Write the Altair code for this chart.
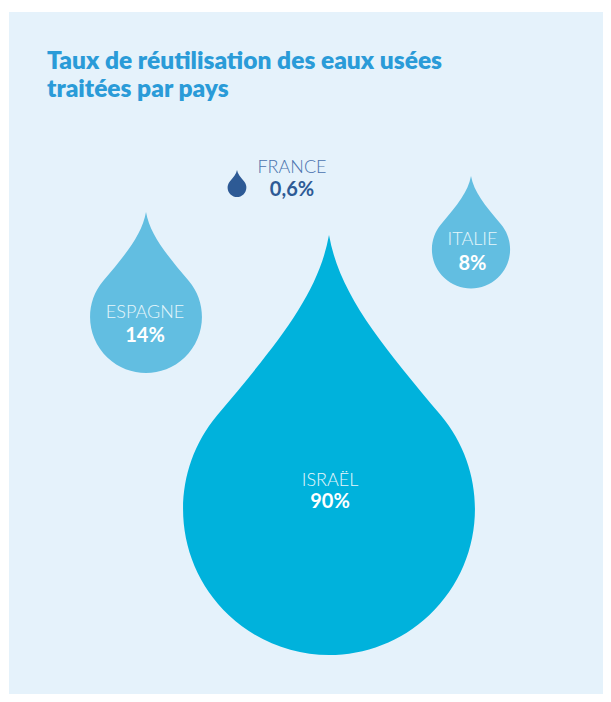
import altair as alt
import pandas as pd

# ---- data ----
countries = ["ISRAËL", "ESPAGNE", "ITALIE", "FRANCE"]
values = [90, 14, 8, 0.6]
value_labels = ["90%", "14%", "8%", "0,6%"]

# ---- layout (plot-area pixels) ----
drop_cx = [320, 137, 462, 228]
drop_cy = [433, 280.5, 220.25, 171.5]
label_x = [321, 136, 463.5, 283]
name_y = [474, 305.7, 233, 161.3]
value_y = [496.3, 329.7, 258, 184]

drop_colors = ["#00B2DC", "#62BEE1", "#62BEE1", "#2D5A95"]
name_colors = ["#E6F6FB", "#E6F6FB", "#E6F6FB", "#4A72AE"]
value_colors = ["#FFFFFF", "#FFFFFF", "#FFFFFF", "#2D5A95"]

W, H = 594, 682
BG = "#E5F2FB"

DROP = ("M0,-1 C0.05,-0.72 0.243,-0.486 0.5324,-0.1417 "
        "A0.695,0.695 0 1 1 -0.5324,-0.1417 "
        "C-0.243,-0.486 -0.05,-0.72 0,-1 Z")

df = pd.DataFrame({
    "country": countries, "value": values, "label": value_labels,
    "cx": drop_cx, "cy": drop_cy, "lx": label_x, "ny": name_y, "vy": value_y,
})

xs = alt.Scale(domain=[0, W], nice=False, zero=False)
ys = alt.Scale(domain=[0, H], nice=False, zero=False, reverse=True)

base = alt.Chart(df)

drops = base.mark_point(shape=DROP, filled=True, opacity=1, strokeWidth=0).encode(
    x=alt.X("cx:Q", scale=xs, axis=None),
    y=alt.Y("cy:Q", scale=ys, axis=None),
    size=alt.Size("value:Q", legend=None,
                  scale=alt.Scale(domain=[0.6, 8, 14, 90],
                                  range=[729, 12656, 25921, 176400])),
    fill=alt.Fill("country:N", legend=None,
                  scale=alt.Scale(domain=countries, range=drop_colors)),
)

names = base.mark_text(font="Lato", fontWeight=300, fontSize=18,
                       align="center", baseline="alphabetic").encode(
    x=alt.X("lx:Q", scale=xs, axis=None),
    y=alt.Y("ny:Q", scale=ys, axis=None),
    text="country:N",
    color=alt.Color("country:N", legend=None,
                    scale=alt.Scale(domain=countries, range=name_colors)),
)

vals = base.mark_text(font="Lato", fontWeight="bold", fontSize=20,
                      align="center", baseline="alphabetic").encode(
    x=alt.X("lx:Q", scale=xs, axis=None),
    y=alt.Y("vy:Q", scale=ys, axis=None),
    text="label:N",
    color=alt.Color("country:N", legend=None,
                    scale=alt.Scale(domain=countries, range=value_colors)),
)

title_lines = ["Taux de réutilisation des eaux usées", "traitées par pays"]
title = alt.Chart(pd.DataFrame({"t": ["\n".join(title_lines)]})).mark_text(
    font="Lato", fontWeight=800, fontSize=24.5, color="#2A9BD8",
    align="left", baseline="alphabetic", lineBreak="\n", lineHeight=28,
).encode(x=alt.value(38), y=alt.value(57), text="t:N")

chart = alt.layer(drops, names, vals, title).resolve_scale(
    color="independent"
).properties(
    width=W, height=H,
    autosize=alt.AutoSizeParams(type="none"),
    padding={"left": 1, "top": 4, "right": 0, "bottom": 0},
    background="#FFFFFF",
).configure_view(fill=BG, stroke=None)

chart.save("out.html", embed_options={"renderer": "svg", "actions": False})
